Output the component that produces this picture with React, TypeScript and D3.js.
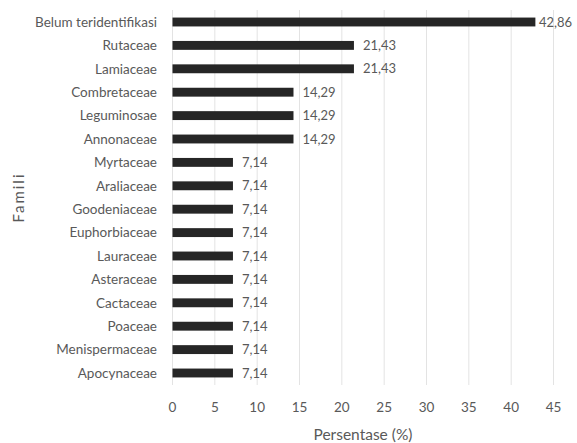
import React, { useEffect, useRef } from 'react';
import * as d3 from 'd3';

// families (top to bottom) and their percentages
const families = [
  'Belum teridentifikasi', 'Rutaceae', 'Lamiaceae', 'Combretaceae', 'Leguminosae',
  'Annonaceae', 'Myrtaceae', 'Araliaceae', 'Goodeniaceae', 'Euphorbiaceae',
  'Lauraceae', 'Asteraceae', 'Cactaceae', 'Poaceae', 'Menispermaceae', 'Apocynaceae',
];
const percents = [42.86, 21.43, 21.43, 14.29, 14.29, 14.29, 7.14, 7.14, 7.14, 7.14, 7.14, 7.14, 7.14, 7.14, 7.14, 7.14];
const valueLabels = ['42,86', '21,43', '21,43', '14,29', '14,29', '14,29', '7,14', '7,14', '7,14', '7,14', '7,14', '7,14', '7,14', '7,14', '7,14', '7,14'];
const xTicks = [0, 5, 10, 15, 20, 25, 30, 35, 40, 45];

const WIDTH = 577;
const HEIGHT = 443;
const FONT = 'Lato, "Liberation Sans", sans-serif';
const TEXT = '#595959';

export default function App() {
  const ref = useRef<SVGSVGElement>(null);

  useEffect(() => {
    const svg = d3.select(ref.current);
    svg.selectAll('*').remove();

    const x = d3.scaleLinear().domain([0, 45]).range([172.5, 553.5]);
    const y = d3.scaleBand().domain(families).range([10.3, 384.7]).paddingInner(0.62).paddingOuter(0.31);
    const top = 10;
    const bottom = 385;

    // vertical gridlines
    svg.append('g')
      .selectAll('line')
      .data(xTicks)
      .join('line')
      .attr('x1', d => x(d))
      .attr('x2', d => x(d))
      .attr('y1', top)
      .attr('y2', bottom)
      .attr('stroke', '#e3e3e3')
      .attr('stroke-width', 1);

    // x tick labels
    svg.append('g')
      .selectAll('text')
      .data(xTicks)
      .join('text')
      .attr('x', d => x(d))
      .attr('y', 412)
      .attr('text-anchor', 'middle')
      .attr('font-family', FONT)
      .attr('font-size', 13.5)
      .attr('fill', TEXT)
      .text(d => d);

    // bars
    svg.append('g')
      .selectAll('rect')
      .data(families)
      .join('rect')
      .attr('x', x(0))
      .attr('y', d => y(d)!)
      .attr('width', (d, i) => x(percents[i]) - x(0))
      .attr('height', y.bandwidth())
      .attr('fill', '#262626');

    // category labels
    svg.append('g')
      .selectAll('text')
      .data(families)
      .join('text')
      .attr('x', 157)
      .attr('y', d => y(d)! + y.bandwidth() / 2)
      .attr('dy', '0.35em')
      .attr('text-anchor', 'end')
      .attr('font-family', FONT)
      .attr('font-size', 13.5)
      .attr('fill', TEXT)
      .text(d => d);

    // value labels
    svg.append('g')
      .selectAll('text')
      .data(families)
      .join('text')
      .attr('x', (d, i) => Math.min(x(percents[i]) + 9, 539))
      .attr('y', d => y(d)! + y.bandwidth() / 2)
      .attr('dy', '0.35em')
      .attr('font-family', FONT)
      .attr('font-size', 13)
      .attr('fill', TEXT)
      .text((d, i) => valueLabels[i]);

    // axis titles
    svg.append('text')
      .attr('x', (x(0) + x(45)) / 2)
      .attr('y', 440)
      .attr('text-anchor', 'middle')
      .attr('font-family', FONT)
      .attr('font-size', 15.5)
      .attr('fill', TEXT)
      .text('Persentase (%)');

    svg.append('text')
      .attr('transform', `translate(24, ${(top + bottom) / 2}) rotate(-90)`)
      .attr('text-anchor', 'middle')
      .attr('font-family', FONT)
      .attr('font-size', 15)
      .attr('letter-spacing', 2)
      .attr('fill', TEXT)
      .text('Famili');
  }, []);

  return (
    <svg ref={ref} width={WIDTH} height={HEIGHT}
      style={{ position: 'absolute', left: 0, top: 0, background: '#fff' }} />
  );
}
